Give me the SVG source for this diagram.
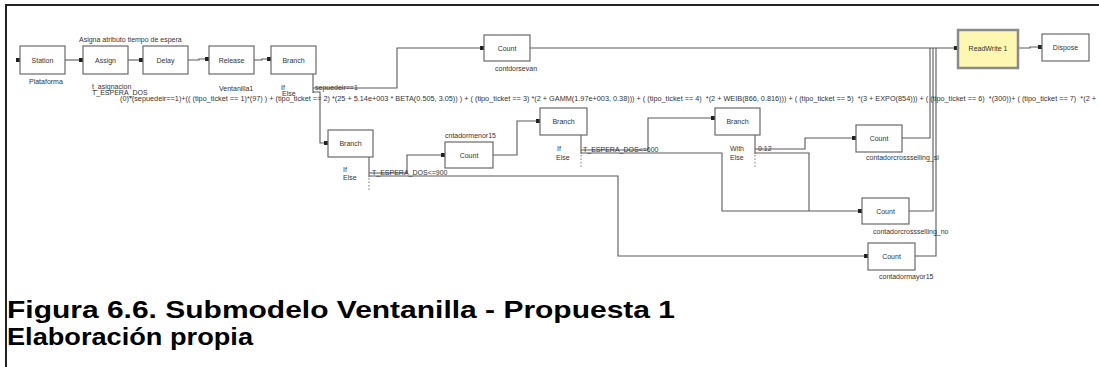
<svg xmlns="http://www.w3.org/2000/svg" width="1099" height="367" viewBox="0 0 1099 367">
  <style>
    .box { fill: #ffffff; stroke: #6a6a6a; stroke-width: 1.2; }
    .rw { fill: #fdf7b2; stroke: #8a8a8a; stroke-width: 2.5; }
    .t { font-family: "Liberation Sans", Arial, sans-serif; font-size: 7px; fill: #333333; }
    .c { text-anchor: middle; }
    .cap { font-family: "Liberation Sans", Arial, sans-serif; font-size: 24px; font-weight: bold; fill: #000000; }
    .ln { fill: none; stroke: #5a5a5a; stroke-width: 1.1; }
    .dot { fill: none; stroke: #777777; stroke-width: 1; stroke-dasharray: 1.5 2; }
  </style>
  <defs>
    <marker id="pin" viewBox="0 0 4 4" refX="4" refY="2" markerWidth="4" markerHeight="4" markerUnits="userSpaceOnUse">
      <rect x="0" y="0" width="4" height="4" fill="#222222"/>
    </marker>
  </defs>

  <rect width="1099" height="367" fill="#ffffff"/>
  <!-- frame -->
  <path d="M6,367 V5 H1099" fill="none" stroke="#222222" stroke-width="2"/>

  <!-- connectors -->
  <g id="connectors">
    <path class="ln" d="M16,60 H20" marker-end="url(#pin)"/>
    <path class="ln" d="M65,60 H83" marker-end="url(#pin)"/>
    <path class="ln" d="M128,60 H143" marker-end="url(#pin)"/>
    <path class="ln" d="M188,60 H199 V59 H209" marker-end="url(#pin)"/>
    <path class="ln" d="M254,60 H262 V59 H271" marker-end="url(#pin)"/>
    <path class="ln" d="M313,74 V93"/>
    <path class="ln" d="M313,88 H397 V48 H484" marker-end="url(#pin)"/>
    <path class="ln" d="M313,92 H320 V143 H328" marker-end="url(#pin)"/>
    <path class="ln" d="M369,157 V177"/>
    <path class="dot" d="M369,178 V191"/>
    <path class="ln" d="M369,173 H407 V155 H445" marker-end="url(#pin)"/>
    <path class="ln" d="M369,176 H618 V256 H868" marker-end="url(#pin)"/>
    <path class="ln" d="M493,155 H517 V121 H540" marker-end="url(#pin)"/>
    <path class="ln" d="M581,135 V154"/>
    <path class="dot" d="M581,155 V169"/>
    <path class="ln" d="M581,150 H648 V118 H715" marker-end="url(#pin)"/>
    <path class="ln" d="M581,153 H722 V211 H862" marker-end="url(#pin)"/>
    <path class="ln" d="M755,135 V154"/>
    <path class="dot" d="M755,155 V169"/>
    <path class="ln" d="M755,149 H805 V138 H856" marker-end="url(#pin)"/>
    <path class="ln" d="M755,153 H809 V211"/>
    <path class="ln" d="M530,48 H958" marker-end="url(#pin)"/>
    <path class="ln" d="M902,138 H930 V48"/>
    <path class="ln" d="M909,211 H933 V48"/>
    <path class="ln" d="M915,256 H936 V48"/>
    <path class="ln" d="M1018,48 H1030 V47 H1042" marker-end="url(#pin)"/>
  </g>

  <!-- top flow -->
  <g id="station">
    <rect class="box" x="20" y="46" width="45" height="28"/>
    <text class="t c" x="42.5" y="62.5">Station</text>
    <text class="t" x="29" y="84">Plataforma</text>
  </g>
  <g id="assign">
    <text class="t" x="79" y="42">Asigna atributo tiempo de espera</text>
    <rect class="box" x="83" y="46" width="45" height="28"/>
    <text class="t c" x="105.5" y="62.5">Assign</text>
    <text class="t" x="92" y="89">t_asignacion</text>
    <text class="t" x="92" y="95">T_ESPERA_DOS</text>
  </g>
  <g id="delay">
    <rect class="box" x="143" y="46" width="45" height="28"/>
    <text class="t c" x="165.5" y="62.5">Delay</text>
  </g>
  <g id="release">
    <rect class="box" x="209" y="46" width="45" height="28"/>
    <text class="t c" x="231.5" y="62.5">Release</text>
    <text class="t" x="219" y="91">Ventanilla1</text>
  </g>
  <g id="branch-puede">
    <rect class="box" x="271" y="46" width="45" height="28"/>
    <text class="t c" x="293.5" y="62.5">Branch</text>
    <text class="t" x="281" y="90">If</text>
    <text class="t" x="282" y="96">Else</text>
    <text class="t" x="315" y="90">sepuedeir==1</text>
  </g>
  <g id="expression">
    <text class="t" x="120" y="101" xml:space="preserve" textLength="976" lengthAdjust="spacingAndGlyphs">(0)*(sepuedeir==1)+(( (tipo_ticket == 1)*(97) ) + (tipo_ticket == 2) *(25 + 5.14e+003 * BETA(0.505, 3.05)) ) + ( (tipo_ticket == 3) *(2 + GAMM(1.97e+003, 0.38))) + ( (tipo_ticket == 4)  *(2 + WEIB(866, 0.816))) + ( (tipo_ticket == 5)  *(3 + EXPO(854))) + ( (tipo_ticket == 6)  *(300))+ ( (tipo_ticket == 7)  *(2 +</text>
  </g>

  <g id="count-sevan">
    <rect class="box" x="484" y="35" width="46" height="26"/>
    <text class="t c" x="507" y="50.5">Count</text>
    <text class="t" x="495" y="71">contdorsevan</text>
  </g>
  <g id="readwrite">
    <rect class="rw" x="958" y="30" width="60" height="38"/>
    <text class="t c" x="988" y="51">ReadWrite 1</text>
  </g>
  <g id="dispose">
    <rect class="box" x="1042" y="34" width="47" height="27"/>
    <text class="t c" x="1065.5" y="50">Dispose</text>
  </g>

  <!-- waiting-time branches -->
  <g id="branch-900">
    <rect class="box" x="328" y="130" width="45" height="27"/>
    <text class="t c" x="350.5" y="146">Branch</text>
    <text class="t" x="343" y="172">If</text>
    <text class="t" x="343" y="180">Else</text>
    <text class="t" x="372" y="175">T_ESPERA_DOS&lt;=900</text>
  </g>
  <g id="count-menor15">
    <text class="t" x="445" y="138">cntadormenor15</text>
    <rect class="box" x="445" y="142" width="48" height="26"/>
    <text class="t c" x="469" y="157.5">Count</text>
  </g>
  <g id="branch-600">
    <rect class="box" x="540" y="108" width="47" height="27"/>
    <text class="t c" x="563.5" y="124">Branch</text>
    <text class="t" x="557" y="151">If</text>
    <text class="t" x="556" y="160">Else</text>
    <text class="t" x="583" y="152">T_ESPERA_DOS&lt;=600</text>
  </g>
  <g id="branch-cross">
    <rect class="box" x="715" y="108" width="45" height="27"/>
    <text class="t c" x="737.5" y="124">Branch</text>
    <text class="t" x="730" y="151">With</text>
    <text class="t" x="730" y="160">Else</text>
    <text class="t" x="758" y="151">0.12</text>
  </g>
  <g id="count-cross-si">
    <rect class="box" x="856" y="125" width="46" height="27"/>
    <text class="t c" x="879" y="140.5">Count</text>
    <text class="t" x="866" y="160">contadorcrossselling_si</text>
  </g>
  <g id="count-cross-no">
    <rect class="box" x="862" y="198" width="47" height="26"/>
    <text class="t c" x="885.5" y="213.5">Count</text>
    <text class="t" x="873" y="234">contadorcrossselling_no</text>
  </g>
  <g id="count-mayor15">
    <rect class="box" x="868" y="243" width="47" height="27"/>
    <text class="t c" x="891.5" y="258.5">Count</text>
    <text class="t" x="879" y="279">contadormayor15</text>
  </g>

  <!-- caption -->
  <text class="cap" x="7" y="318" textLength="668" lengthAdjust="spacingAndGlyphs">Figura 6.6. Submodelo Ventanilla - Propuesta 1</text>
  <text class="cap" x="7" y="345" textLength="246" lengthAdjust="spacingAndGlyphs">Elaboración propia</text>
</svg>
